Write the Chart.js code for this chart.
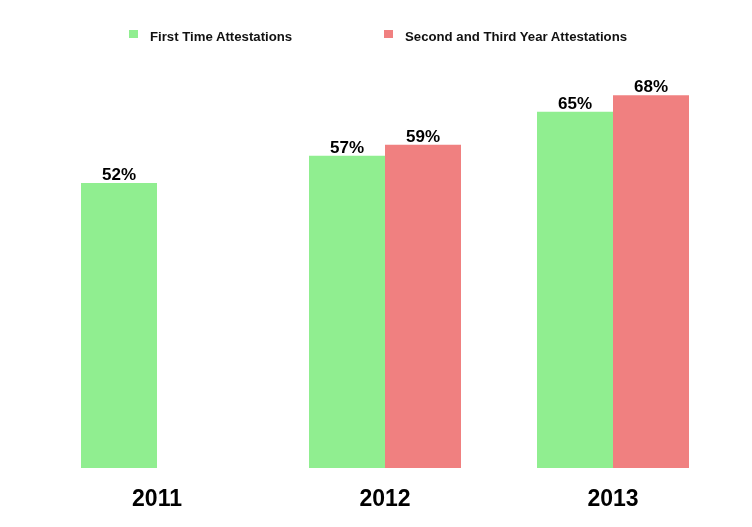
<!DOCTYPE html>
<html>
<head>
<meta charset="utf-8">
<script src="https://cdn.jsdelivr.net/npm/chart.js@4.4.1/dist/chart.umd.min.js"></script>
<style>
  html, body { margin: 0; padding: 0; background: #fff; }
  #wrap { position: relative; width: 752px; height: 527px; }
  #legend { position: absolute; top: 28px; left: 0; width: 752px; height: 20px;
            font: bold 13.2px Arial, "Liberation Sans", sans-serif; color: #111; }
  .item { position: absolute; top: 0; height: 20px; line-height: 18px; white-space: nowrap; }
  .box { position: absolute; top: 2px; width: 9px; height: 8px; }
  .txt { position: absolute; left: 21px; top: 0; }
</style>
</head>
<body>
<div id="wrap">
  <canvas id="chart" width="752" height="527"></canvas>
  <div id="legend"></div>
</div>
<script>
const years = ['2011', '2012', '2013'];
const firstTime = [52, 57, 65];
const secondThird = [null, 59, 68];
const seriesNames = ['First Time Attestations', 'Second and Third Year Attestations'];
const seriesColors = ['#90EE90', '#F08080'];

// legend drawn as html so spacing matches
const legendEl = document.getElementById('legend');
const legendLeft = [129, 384];
seriesNames.forEach((name, i) => {
    const item = document.createElement('div');
    item.className = 'item';
    item.style.left = legendLeft[i] + 'px';
    item.innerHTML = `<span class="box" style="background:${seriesColors[i]}"></span><span class="txt">${name}</span>`;
    legendEl.appendChild(item);
});

const valueLabels = {
    id: 'valueLabels',
    afterDatasetsDraw(chart) {
        const ctx = chart.ctx;
        ctx.save();
        ctx.font = 'bold 17px Arial, "Liberation Sans", sans-serif';
        ctx.fillStyle = '#000';
        ctx.textAlign = 'center';
        ctx.textBaseline = 'alphabetic';
        chart.data.datasets.forEach((ds, di) => {
            chart.getDatasetMeta(di).data.forEach((bar, i) => {
                const v = ds.data[i];
                if (v === null || v === undefined) return;
                ctx.fillText(v + '%', bar.x, bar.y - 3);
            });
        });
        ctx.restore();
    }
};

new Chart(document.getElementById('chart'), {
    type: 'bar',
    data: {
        labels: years,
        datasets: [
            { label: seriesNames[0], data: firstTime, backgroundColor: seriesColors[0] },
            { label: seriesNames[1], data: secondThird, backgroundColor: seriesColors[1] }
        ]
    },
    options: {
        responsive: false,
        animation: false,
        events: [],
        layout: { padding: { left: 43, right: 25, top: 57, bottom: 0 } },
        datasets: { bar: { categoryPercentage: 2 / 3, barPercentage: 1 } },
        plugins: { legend: { display: false }, tooltip: { enabled: false } },
        scales: {
            x: {
                grid: { display: false, drawTicks: false },
                border: { display: false },
                ticks: {
                    color: '#000',
                    padding: 18,
                    font: { family: 'Arial, "Liberation Sans", sans-serif', size: 23, weight: 'bold' }
                },
                afterFit(scale) { scale.height = 527 - 468; }
            },
            y: { display: false, min: 0, max: 75 }
        }
    },
    plugins: [valueLabels]
});
</script>
</body>
</html>
